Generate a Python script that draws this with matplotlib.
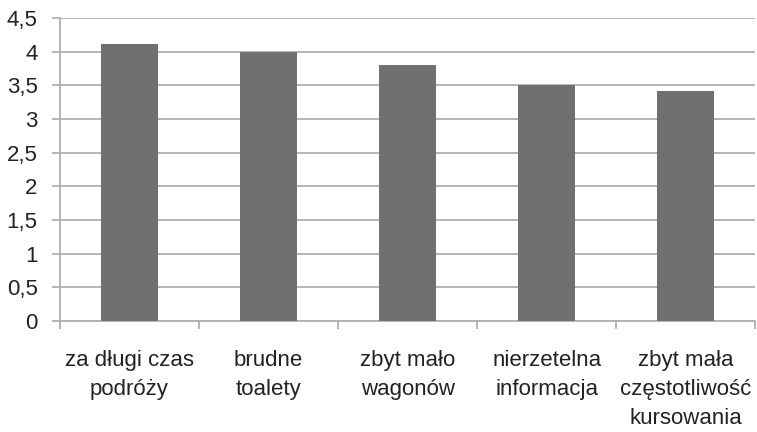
import numpy as np
import matplotlib.pyplot as plt

categories = ["za długi czas\npodróży", "brudne\ntoalety", "zbyt mało\nwagonów",
              "nierzetelna\ninformacja", "zbyt mała\nczęstotliwość\nkursowania"]
values = [4.12, 4.0, 3.8, 3.5, 3.42]
yticks = [0, 0.5, 1, 1.5, 2, 2.5, 3, 3.5, 4, 4.5]
ytick_labels = ["0", "0,5", "1", "1,5", "2", "2,5", "3", "3,5", "4", "4,5"]

plt.rcParams['font.family'] = ['Liberation Sans', 'DejaVu Sans']

fig = plt.figure(figsize=(7.57, 4.32), dpi=100)
ax = fig.add_axes([0.079, 0.257, 0.919, 0.701])

x = np.arange(len(categories))
ax.bar(x, values, width=0.41, color='#707070', zorder=3)

ax.set_xlim(-0.5, len(categories) - 0.5)
ax.set_ylim(0, 4.5)
ax.set_yticks(yticks)
ax.set_yticklabels(ytick_labels, fontsize=16, color='#222222')
ax.yaxis.grid(True, color='#b0b0b0', lw=1.3, zorder=0)

# category labels centered, ticks at boundaries
ax.set_xticks(x)
ax.set_xticklabels(categories, fontsize=16, color='#222222', linespacing=1.5)
ax.tick_params(axis='x', length=0, pad=21)
ax.set_xticks(np.arange(-0.5, len(categories)), minor=True)
ax.tick_params(axis='x', which='minor', length=6, color='#b0b0b0', width=1.3)
ax.tick_params(axis='y', length=6, color='#b0b0b0', width=1.3, pad=10)

for s in ['top', 'right']:
    ax.spines[s].set_visible(False)
for s in ['left', 'bottom']:
    ax.spines[s].set_color('#b0b0b0')
    ax.spines[s].set_linewidth(1.3)

fig.savefig("out.png", dpi=100)
